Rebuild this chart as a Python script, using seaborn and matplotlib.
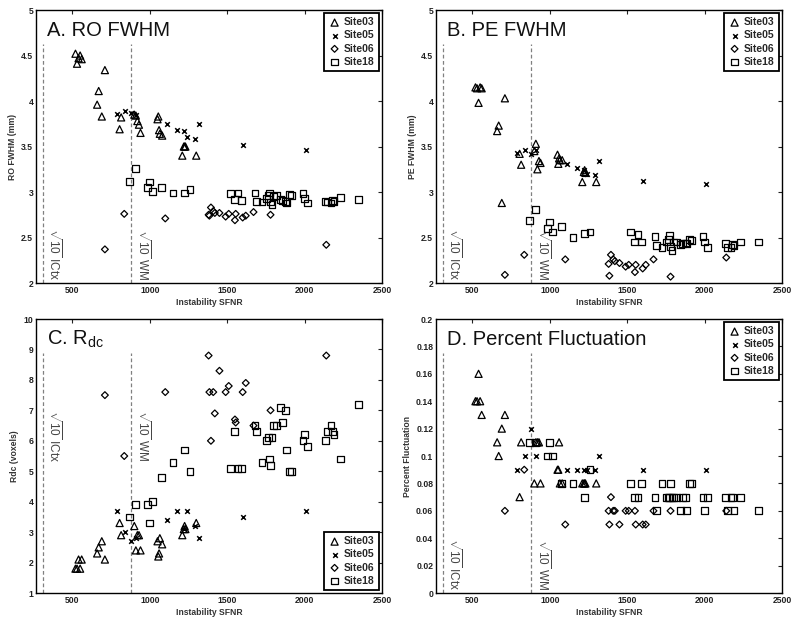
import numpy as np
import pandas as pd
import matplotlib
matplotlib.use("Agg")
import matplotlib.pyplot as plt
import seaborn as sns
from matplotlib.ticker import FuncFormatter

# ---------------- data ----------------
sites = ["Site03", "Site05", "Site06", "Site18"]

x03 = [520, 530, 540, 550, 560, 660, 670, 690, 710, 805, 815, 900, 910, 920, 930, 940,
       1050, 1055, 1060, 1065, 1080, 1210, 1220, 1225, 1230, 1300]
roA03 = [4.52, 4.41, 4.47, 4.50, 4.46, 3.96, 4.11, 3.83, 4.34, 3.69, 3.82, 3.85, 3.84, 3.78, 3.74, 3.65,
         3.80, 3.83, 3.68, 3.64, 3.62, 3.40, 3.50, 3.50, 3.50, 3.40]
peB03 = [4.15, 4.14, 3.98, 4.15, 4.14, 3.67, 3.73, 2.88, 4.03, 3.42, 3.30, 3.45, 3.53, 3.25, 3.34, 3.32,
         3.41, 3.31, 3.37, 3.35, 3.35, 3.11, 3.22, 3.24, 3.21, 3.11]
rdcC03 = [1.8, 1.8, 2.1, 1.8, 2.1, 2.3, 2.5, 2.7, 2.1, 3.3, 2.9, 3.2, 2.4, 2.9, 2.9, 2.4,
          2.7, 2.2, 2.3, 2.8, 2.6, 2.9, 3.1, 3.2, 3.1, 3.3]
pfD03 = [0.14, 0.14, 0.16, 0.14, 0.13, 0.11, 0.10, 0.12, 0.13, 0.07, 0.11, 0.08, 0.11, 0.11, 0.11, 0.08,
         0.09, 0.09, 0.11, 0.08, 0.08, 0.08, 0.08, 0.08, 0.08, 0.08]

x05 = [790, 840, 880, 910, 1110, 1175, 1220, 1240, 1290, 1320, 1600, 2010]
roA05 = [3.86, 3.89, 3.87, 3.85, 3.75, 3.68, 3.67, 3.61, 3.58, 3.75, 3.52, 3.46]
peB05 = [3.43, 3.46, 3.42, 3.46, 3.31, 3.26, 3.24, 3.20, 3.19, 3.34, 3.12, 3.09]
rdcC05 = [3.7, 3.0, 2.7, 2.8, 3.4, 3.7, 3.1, 3.7, 3.2, 2.8, 3.5, 3.7]
pfD05 = [0.09, 0.10, 0.12, 0.10, 0.09, 0.09, 0.09, 0.09, 0.09, 0.10, 0.09, 0.09]

x06 = [710, 835, 1100, 1380, 1385, 1395, 1410, 1420, 1450, 1490, 1510, 1550, 1555, 1600, 1620, 1670, 1780, 2140]
roA06 = [2.37, 2.76, 2.71, 2.75, 2.74, 2.83, 2.79, 2.77, 2.77, 2.73, 2.76, 2.69, 2.76, 2.72, 2.74, 2.78, 2.75, 2.42]
peB06 = [2.09, 2.31, 2.26, 2.21, 2.08, 2.31, 2.26, 2.24, 2.22, 2.18, 2.20, 2.12, 2.20, 2.16, 2.20, 2.26, 2.07, 2.28]
rdcC06 = [7.5, 5.5, 7.6, 8.8, 7.6, 6.0, 7.6, 6.9, 8.3, 7.6, 7.8, 6.7, 6.6, 7.6, 7.9, 6.5, 7.0, 8.8]
pfD06 = [0.06, 0.09, 0.05, 0.06, 0.05, 0.07, 0.06, 0.06, 0.05, 0.06, 0.06, 0.06, 0.05, 0.05, 0.05, 0.06, 0.06, 0.06]

x18 = [870, 910, 985, 1000, 1020, 1075, 1150, 1225, 1260,
       1520, 1545, 1570, 1590, 1680, 1690, 1725, 1755, 1765, 1775, 1780, 1790, 1800, 1820, 1845,
       1855, 1875, 1885, 1905, 1915,
       1990, 2000, 2020, 2135, 2150, 2170, 2180, 2190, 2230, 2350]
roA18 = [3.12, 3.26, 3.05, 3.11, 3.01, 3.05, 2.99, 2.99, 3.03,
         2.98, 2.92, 2.99, 2.91, 2.99, 2.90, 2.89, 2.93, 2.96, 2.99, 2.89, 2.86, 2.95, 2.96, 2.92,
         2.91, 2.90, 2.88, 2.97, 2.96,
         2.98, 2.93, 2.88, 2.90, 2.89, 2.88, 2.91, 2.90, 2.94, 2.92]
peB18 = [2.69, 2.81, 2.60, 2.67, 2.56, 2.62, 2.50, 2.54, 2.56,
         2.56, 2.45, 2.53, 2.45, 2.51, 2.41, 2.39, 2.45, 2.48, 2.52, 2.40, 2.36, 2.45, 2.45, 2.42,
         2.43, 2.44, 2.43, 2.48, 2.47,
         2.51, 2.45, 2.39, 2.43, 2.39, 2.39, 2.42, 2.41, 2.45, 2.45]
rdcC18 = [3.5, 3.9, 3.9, 3.3, 4.0, 4.8, 5.3, 5.7, 5.0,
          5.1, 6.3, 5.1, 5.1, 6.5, 6.3, 5.3, 6.0, 6.1, 5.4, 5.2, 6.1, 6.5, 6.5, 7.1,
          6.6, 7.0, 5.7, 5.0, 5.0,
          6.0, 6.2, 5.8, 6.0, 6.3, 6.5, 6.3, 6.2, 5.4, 7.2]
pfD18 = [0.11, 0.11, 0.10, 0.11, 0.10, 0.08, 0.08, 0.07, 0.09,
         0.08, 0.07, 0.07, 0.08, 0.07, 0.06, 0.08, 0.07, 0.07, 0.07, 0.08, 0.07, 0.07, 0.07, 0.06,
         0.07, 0.07, 0.06, 0.08, 0.08,
         0.07, 0.06, 0.07, 0.07, 0.06, 0.07, 0.07, 0.06, 0.07, 0.06]

panel_titles = ["A. RO FWHM", "B. PE FWHM", r"C. R$_{\mathrm{dc}}$", "D. Percent Fluctuation"]
panel_ylabels = ["RO FWHM (mm)", "PE FWHM (mm)", "Rdc (voxels)", "Percent Fluctuation"]
xlabel = "Instability SFNR"
ctx_x = 310
wm_x = 880
ctx_label = r"$\sqrt{10}$ ICtx"
wm_label = r"$\sqrt{10}$ WM"

# ---------------- tidy frame ----------------
xs = {"Site03": x03, "Site05": x05, "Site06": x06, "Site18": x18}
vals = {
    "A": {"Site03": roA03, "Site05": roA05, "Site06": roA06, "Site18": roA18},
    "B": {"Site03": peB03, "Site05": peB05, "Site06": peB06, "Site18": peB18},
    "C": {"Site03": rdcC03, "Site05": rdcC05, "Site06": rdcC06, "Site18": rdcC18},
    "D": {"Site03": pfD03, "Site05": pfD05, "Site06": pfD06, "Site18": pfD18},
}
rows = []
for p, d in vals.items():
    for s in sites:
        for xv, yv in zip(xs[s], d[s]):
            rows.append({"panel": p, "site": s, "SFNR": xv, "value": yv})
df = pd.DataFrame(rows)

# ---------------- style ----------------
sns.set_theme(style="white")
plt.rcParams["font.family"] = ["Liberation Sans", "DejaVu Sans"]
plt.rcParams["mathtext.fontset"] = "custom"
plt.rcParams["mathtext.rm"] = "Liberation Sans"
plt.rcParams["mathtext.it"] = "Liberation Sans:italic"

fig = plt.figure(figsize=(8.0, 6.27), dpi=100)
positions = {
    "A": [0.045, 0.5486, 0.4325, 0.4354],
    "B": [0.545, 0.5486, 0.4325, 0.4354],
    "C": [0.045, 0.0542, 0.4325, 0.437],
    "D": [0.545, 0.0542, 0.4325, 0.437],
}
ylims = {"A": (2, 5), "B": (2, 5), "C": (1, 10), "D": (0, 0.2)}
yticks = {"A": np.arange(2, 5.01, 0.5), "B": np.arange(2, 5.01, 0.5),
          "C": np.arange(1, 10.01, 1), "D": np.arange(0, 0.2001, 0.02)}

marker_kw = {
    "Site03": dict(marker="^", s=26, facecolor="none", edgecolor="black", linewidth=0.9),
    "Site05": dict(marker="x", s=11, color="black", linewidth=1.1),
    "Site06": dict(marker="D", s=12, facecolor="none", edgecolor="black", linewidth=0.9),
    "Site18": dict(marker="s", s=24, facecolor="none", edgecolor="black", linewidth=0.9),
}

fmt = FuncFormatter(lambda v, pos: ("%g" % round(v, 4)))

for i, p in enumerate(["A", "B", "C", "D"]):
    ax = fig.add_axes(positions[p])
    sub = df[df["panel"] == p]
    for s in sites:
        sns.scatterplot(data=sub[sub["site"] == s], x="SFNR", y="value", ax=ax,
                        label=s, legend=False, zorder=3, **marker_kw[s])
    ax.set_xlim(265, 2500)
    ax.set_ylim(*ylims[p])
    ax.set_xticks([500, 1000, 1500, 2000, 2500])
    ax.set_yticks(yticks[p])
    ax.yaxis.set_major_formatter(fmt)
    ax.tick_params(direction="in", top=True, right=True, length=3, width=0.8,
                   labelsize=6.2, colors="#222222", pad=2)
    for lab in ax.get_xticklabels() + ax.get_yticklabels():
        lab.set_fontweight("bold")
    for sp in ax.spines.values():
        sp.set_color("black")
        sp.set_linewidth(1.0)
    ax.set_xlabel(xlabel, fontsize=6.2, fontweight="bold", color="#333333", labelpad=2)
    ax.set_ylabel(panel_ylabels[i], fontsize=6.2, fontweight="bold", color="#333333", labelpad=3)

    # reference lines
    for xv in (ctx_x, wm_x):
        ax.axvline(xv, ymin=0, ymax=0.875, color="#808080", linestyle=(0, (3, 2)),
                   linewidth=0.9, zorder=1)
    y0, y1 = ylims[p]
    if p == "C":
        ty = y0 + 0.667 * (y1 - y0)
        va = "top"
    else:
        ty = y0 + 0.01 * (y1 - y0)
        va = "bottom"
    ax.text(ctx_x + 22, ty, ctx_label, rotation=270, fontsize=8.5, color="#444444",
            ha="left", va=va)
    ax.text(wm_x + 22, ty, wm_label, rotation=270, fontsize=8.5, color="#444444",
            ha="left", va=va)

    ax.text(0.032, 0.905, panel_titles[i], transform=ax.transAxes, fontsize=14.5,
            ha="left", va="baseline", color="#111111")

    leg = ax.legend(loc="lower right" if p == "C" else "upper right",
                    prop={"size": 7.5, "weight": "bold"}, frameon=True, fancybox=False,
                    framealpha=1, edgecolor="black", handlelength=1.2, handletextpad=0.3,
                    borderpad=0.4, labelspacing=0.3, borderaxespad=0.3)
    leg.get_frame().set_linewidth(1.3)

fig.savefig("out.png", dpi=100)
